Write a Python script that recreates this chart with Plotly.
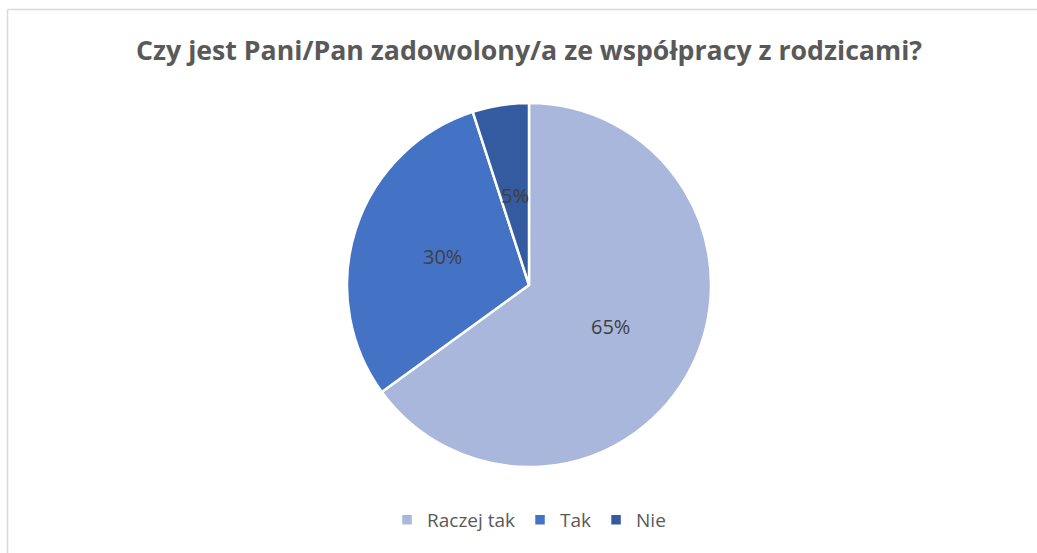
import math
import plotly.graph_objects as go

categories = ["Raczej tak", "Tak", "Nie"]
values = [65, 30, 5]
colors = ["#A9B7DC", "#4472C4", "#345AA0"]
title_text = "Czy jest Pani/Pan zadowolony/a ze współpracy z rodzicami?"

W, H = 1037, 553
cx, cy, r = 529, 285, 182
FONT = "Open Sans, Liberation Sans, sans-serif"

fig = go.Figure()
fig.add_trace(go.Pie(
    labels=categories, values=values, sort=False, direction="clockwise", rotation=0,
    marker=dict(colors=colors, line=dict(color="white", width=2.5)),
    textinfo="none", hoverinfo="label+percent",
    domain=dict(x=[(cx - r) / W, (cx + r) / W], y=[1 - (cy + r) / H, 1 - (cy - r) / H]),
))

# Percentage labels placed at half radius along each slice's mid-angle
total = sum(values)
cum = 0
annotations = []
for v in values:
    mid = (cum + v / 2) / total
    cum += v
    th = 2 * math.pi * mid
    px = cx + 0.5 * r * math.sin(th)
    py = cy - 0.5 * r * math.cos(th)
    annotations.append(dict(
        x=px / W, y=1 - py / H, xref="paper", yref="paper",
        text=f"{round(100 * v / total)}%", showarrow=False,
        font=dict(size=20, color="#404040", family=FONT),
        xanchor="center", yanchor="middle",
    ))

annotations.append(dict(
    x=529 / W, y=1 - 49 / H, xref="paper", yref="paper", text=f"<b>{title_text}</b>",
    showarrow=False, xanchor="center", yanchor="middle",
    font=dict(size=26.7, color="#595959", family=FONT),
))

fig.update_layout(
    width=W, height=H,
    margin=dict(l=0, r=0, t=0, b=0),
    paper_bgcolor="white", plot_bgcolor="white",
    annotations=annotations,
    showlegend=True,
    legend=dict(orientation="h", x=529 / W, xanchor="center", y=1 - 520 / H, yanchor="middle",
                font=dict(size=19, color="#595959", family=FONT),
                itemwidth=30, traceorder="normal"),
    shapes=[
        dict(type="line", xref="paper", yref="paper", x0=7.5 / W, x1=1.01, y0=1 - 9.5 / H, y1=1 - 9.5 / H,
             line=dict(color="#D9D9D9", width=1.5)),
        dict(type="line", xref="paper", yref="paper", x0=7.5 / W, x1=7.5 / W, y0=1 - 9.5 / H, y1=-0.01,
             line=dict(color="#D9D9D9", width=1.5)),
    ],
)

fig.write_html("out.html", config={"displayModeBar": False},
               post_script="document.body.style.margin='0';document.body.style.overflow='hidden';")
